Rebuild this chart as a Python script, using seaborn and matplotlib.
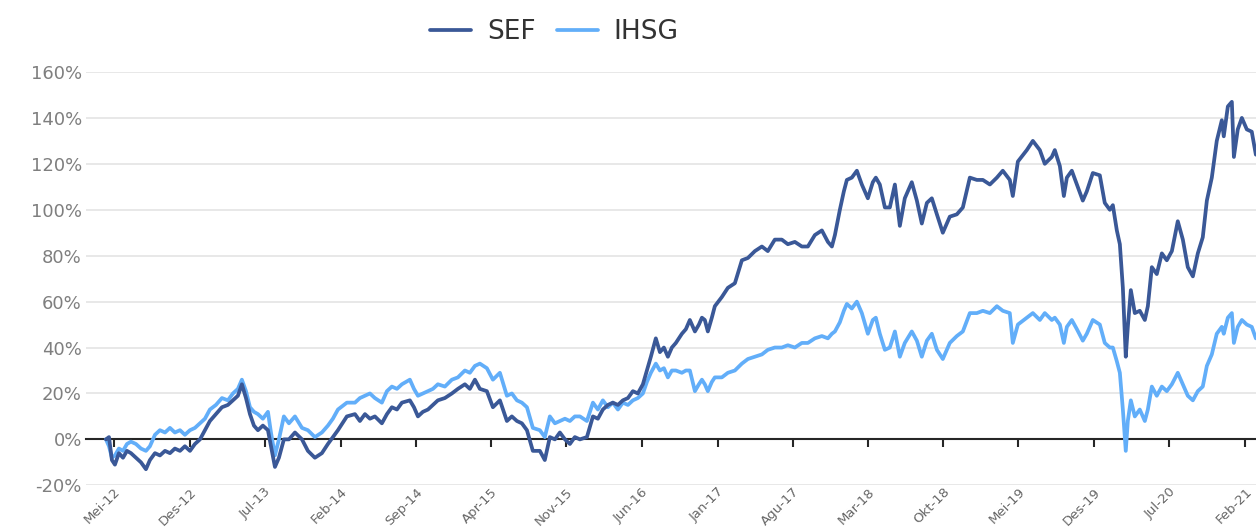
import numpy as np
import pandas as pd
import matplotlib
matplotlib.use("Agg")
import matplotlib.pyplot as plt
import seaborn as sns
from matplotlib.ticker import FuncFormatter

# ---- data (months since May 2012, cumulative return in %) ----
months = [-0.74, -0.46, -0.19, 0.09, 0.46, 0.84, 1.21, 1.58, 2.04, 2.51, 2.97, 3.34, 3.81, 4.27, 4.74,
          5.20, 5.66, 6.13, 6.59, 7.06, 7.52, 7.99, 8.45, 8.91, 9.47, 10.03, 10.58, 11.05, 11.51, 11.88,
          12.26, 12.63, 13.00, 13.37, 13.83, 14.30, 14.58, 14.95, 15.32, 15.78, 16.25, 16.81, 17.46, 18.01,
          18.66, 19.31, 19.87, 20.33, 20.80, 21.63, 22.38, 22.84, 23.31, 23.77, 24.23, 24.88, 25.35, 25.81,
          26.28, 26.74, 27.48, 27.86, 28.23, 28.69, 29.16, 29.62, 30.08, 30.73, 31.38, 31.94, 32.59, 33.05,
          33.52, 33.98, 34.63, 35.19, 35.84, 36.49, 36.95, 37.42, 37.88, 38.35, 38.90, 39.55, 40.01, 40.48,
          40.95, 41.41, 41.88, 42.34, 42.80, 43.27, 43.92, 44.48, 44.94, 45.40, 45.87, 46.33, 46.80, 47.26,
          47.73, 48.19, 48.65, 49.12, 49.49, 49.86, 50.32, 50.70, 51.07, 51.44, 51.81, 52.18, 52.74, 53.11,
          53.48, 53.95, 54.32, 54.60, 54.87, 55.15, 55.52, 55.80, 56.45, 57.01, 57.66, 58.31, 58.87, 59.52,
          60.17, 60.72, 61.37, 62.02, 62.58, 63.23, 63.88, 64.44, 65.09, 65.74, 66.30, 66.67, 66.95, 67.41,
          67.78, 68.06, 68.52, 68.99, 69.45, 70.01, 70.47, 70.75, 71.12, 71.59, 72.05, 72.52, 72.98, 73.44,
          74.09, 74.56, 75.02, 75.49, 75.95, 76.42, 76.97, 77.62, 78.27, 78.83, 79.48, 80.13, 80.69, 81.34,
          81.99, 82.54, 83.19, 83.47, 83.94, 84.77, 85.33, 85.98, 86.44, 87.09, 87.37, 87.84, 88.21, 88.49,
          88.95, 89.42, 89.97, 90.34, 90.90, 91.55, 92.01, 92.48, 92.76, 93.13, 93.41, 93.69, 93.96, 94.15,
          94.43, 94.80, 95.26, 95.73, 96.01, 96.38, 96.84, 97.31, 97.77, 98.24, 98.79, 99.26, 99.72, 100.19,
          100.65, 101.11, 101.49, 101.95, 102.41, 102.88, 103.06, 103.44, 103.81, 104.00, 104.36, 104.74,
          105.20, 105.66, 106.04]

sef = [0, 1, -9, -11, -6, -8, -5, -6, -8, -10, -13, -9, -6, -7, -5,
       -6, -4, -5, -3, -5, -2, 0, 4, 8, 11, 14, 15, 17, 19, 24,
       18, 11, 6, 4, 6, 4, -3, -12, -8, 0, 0, 3, 0, -5,
       -8, -6, -2, 1, 4, 10, 11, 8, 11, 9, 10, 7, 11, 14,
       13, 16, 17, 14, 10, 12, 13, 15, 17, 18, 20, 22, 24, 22,
       26, 22, 21, 14, 17, 8, 10, 8, 7, 4, -5, -5, -9, 1,
       0, 3, 0, -2, 1, 0, 1, 10, 9, 13, 15, 16, 15, 17,
       18, 21, 20, 24, 30, 36, 44, 38, 40, 36, 40, 42, 46, 48,
       52, 47, 50, 53, 52, 47, 53, 58, 62, 66, 68, 78, 79, 82,
       84, 82, 87, 87, 85, 86, 84, 84, 89, 91, 86, 84, 89, 100,
       108, 113, 114, 117, 111, 105, 112, 114, 111, 101, 101, 111, 93, 105,
       112, 104, 94, 103, 105, 98, 90, 97, 98, 101, 114, 113, 113, 111,
       114, 117, 113, 106, 121, 126, 130, 126, 120, 123, 126, 119, 106, 114,
       117, 111, 104, 108, 116, 115, 103, 100, 102, 91, 85, 66, 36, 49,
       65, 55, 56, 52, 58, 75, 72, 81, 78, 82, 95, 87, 75, 71,
       81, 88, 104, 114, 130, 139, 132, 145, 147, 123, 135, 140,
       135, 134, 124]

ihsg = [0, -3, -8, -7, -4, -5, -2, -1, -2, -4, -5, -3, 2, 4, 3,
        5, 3, 4, 2, 4, 5, 7, 9, 13, 15, 18, 17, 20, 22, 26,
        21, 14, 12, 11, 9, 12, 3, -7, 0, 10, 7, 10, 5, 4,
        1, 3, 6, 9, 13, 16, 16, 18, 19, 20, 18, 16, 21, 23,
        22, 24, 26, 22, 19, 20, 21, 22, 24, 23, 26, 27, 30, 29,
        32, 33, 31, 26, 29, 19, 20, 17, 16, 14, 5, 4, 1, 10,
        7, 8, 9, 8, 10, 10, 8, 16, 13, 17, 14, 16, 13, 16,
        15, 17, 18, 20, 25, 29, 33, 30, 31, 27, 30, 30, 29, 30,
        30, 21, 24, 26, 24, 21, 25, 27, 27, 29, 30, 33, 35, 36,
        37, 39, 40, 40, 41, 40, 42, 42, 44, 45, 44, 46, 47, 51,
        56, 59, 57, 60, 55, 46, 52, 53, 46, 39, 40, 47, 36, 42,
        47, 43, 36, 43, 46, 39, 35, 42, 45, 47, 55, 55, 56, 55,
        58, 56, 55, 42, 50, 53, 55, 52, 55, 52, 53, 50, 42, 49,
        52, 48, 43, 46, 52, 50, 42, 40, 40, 34, 29, 13, -5, 8,
        17, 10, 13, 8, 13, 23, 19, 23, 21, 24, 29, 24, 19, 17,
        21, 23, 32, 37, 46, 49, 46, 53, 55, 42, 49, 52,
        50, 49, 44]

series_names = ["SEF", "IHSG"]
tick_labels = ["Mei-12", "Des-12", "Jul-13", "Feb-14", "Sep-14", "Apr-15", "Nov-15", "Jun-16",
               "Jan-17", "Agu-17", "Mar-18", "Okt-18", "Mei-19", "Des-19", "Jul-20", "Feb-21"]
y_ticks = [-20, 0, 20, 40, 60, 80, 100, 120, 140, 160]

# ---- build frame ----
start = pd.Timestamp("2012-05-01")
dates = start + pd.to_timedelta(np.array(months) * 30.4375, unit="D")
df = pd.DataFrame({"date": dates, "SEF": sef, "IHSG": ihsg})
long = df.melt(id_vars="date", var_name="series", value_name="ret")
tick_dates = pd.date_range(start, periods=len(tick_labels), freq="7MS")

sns.set_style("white")
plt.rcParams["font.family"] = ["DejaVu Sans"]

colors = {"SEF": "#3A5897", "IHSG": "#62AEF9"}

fig = plt.figure(figsize=(12.56, 5.28), dpi=100)
ax = fig.add_axes([86 / 1256, 1 - 485.3 / 528, 1 - 86 / 1256, (485.3 - 72) / 528])

for name in ["IHSG", "SEF"]:
    sns.lineplot(data=long[long.series == name], x="date", y="ret", color=colors[name],
                 lw=2.7, ax=ax, label=name, zorder=3 if name == "SEF" else 2)

handles, labels = ax.get_legend_handles_labels()
hmap = dict(zip(labels, handles))
ax.get_legend().remove()

ax.set_xlim(start - pd.Timedelta(days=79), start + pd.Timedelta(days=3228))
ax.set_ylim(-20, 160)
ax.set_yticks(y_ticks)
ax.yaxis.set_major_formatter(FuncFormatter(lambda v, p: f"{v:.0f}%"))
ax.tick_params(axis="y", length=0, pad=3, labelsize=13, labelcolor="#7f7f7f")
ax.set_xlabel("")
ax.set_ylabel("")
ax.set_axisbelow(True)
ax.yaxis.grid(True, color="#e6e6e6", lw=1.3)
ax.xaxis.grid(False)

for s in ["left", "right", "top"]:
    ax.spines[s].set_visible(False)
ax.spines["bottom"].set_position(("data", 0))
ax.spines["bottom"].set_color("#262626")
ax.spines["bottom"].set_linewidth(1.5)
ax.spines["bottom"].set_zorder(1.5)
ax.set_xticks(tick_dates)
ax.tick_params(axis="x", bottom=True, direction="out", length=6, width=1.5,
               color="#262626", labelbottom=False)

sec = ax.secondary_xaxis("bottom")
sec.set_xticks(tick_dates)
sec.set_xticklabels(tick_labels, rotation=45, ha="right", rotation_mode="anchor")
sec.tick_params(bottom=False, length=0, pad=0, labelsize=9.5, labelcolor="#666666")
sec.spines["bottom"].set_visible(False)

leg = fig.legend([hmap["SEF"], hmap["IHSG"]], series_names, loc="center",
                 bbox_to_anchor=(0.4415, 0.939), ncol=2, frameon=False, fontsize=19,
                 handlelength=1.55, handletextpad=0.6, columnspacing=0.8)
for t in leg.get_texts():
    t.set_color("#333333")

fig.savefig("out.png", dpi=100)
